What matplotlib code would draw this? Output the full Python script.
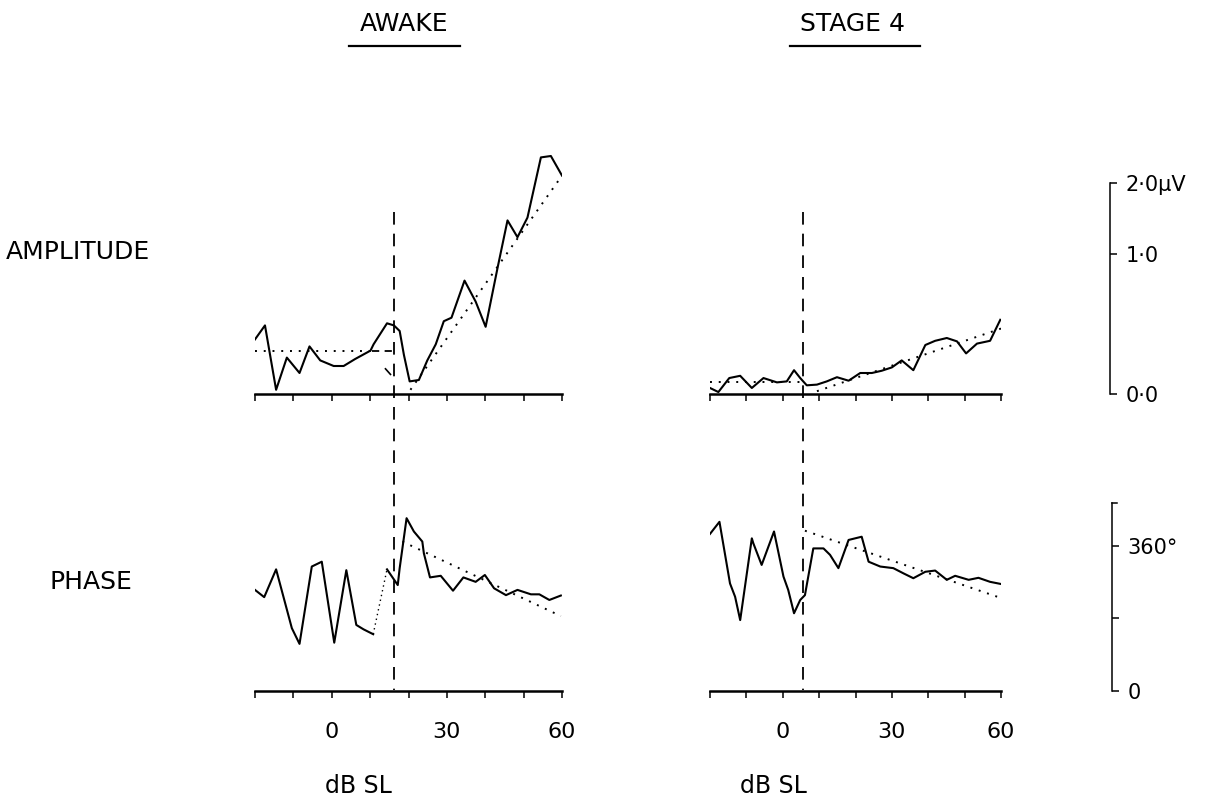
import matplotlib
matplotlib.use('Agg')
import matplotlib.pyplot as plt
from matplotlib.lines import Line2D
from matplotlib.ticker import FuncFormatter
import matplotlib.transforms as mtransforms

plt.rcParams['font.family'] = ['DejaVu Sans']

# ---------------- data (dB SL vs amplitude µV / phase deg) ----------------
awake_amp_db = [-20, -17.4, -14.5, -11.7, -8.4, -5.8, -3.0, 0.5, 3.1, 6.1, 10.1, 10.9,
                14.4, 16.2, 17.7, 18.8, 20.3, 22.7, 24.9, 27.1, 29.2, 31.2, 34.6, 37.5,
                40.1, 43.2, 45.8, 48.4, 51.0, 54.5, 57.1, 60.0]
awake_amp = [0.39, 0.49, 0.03, 0.26, 0.15, 0.34, 0.24, 0.20, 0.20, 0.25, 0.31, 0.355,
             0.505, 0.49, 0.45, 0.28, 0.09, 0.10, 0.24, 0.355, 0.52, 0.545, 0.81, 0.66,
             0.48, 0.90, 1.24, 1.12, 1.26, 1.69, 1.70, 1.56]
awake_amp_base_db = [-20, 10.5]
awake_amp_base = [0.31, 0.31]
awake_amp_base2_db = [10.5, 16.3]
awake_amp_base2 = [0.31, 0.31]
awake_amp_fit_db = [20.5, 60]
awake_amp_fit = [0.03, 1.56]

stage4_amp_db = [-20, -17.7, -14.7, -11.7, -8.5, -5.3, -1.6, 1.1, 3.1, 4.8, 6.6, 9.4,
                 12.1, 14.9, 18.1, 21.3, 24.5, 27.2, 30.0, 32.7, 35.9, 39.2, 41.9, 45.1,
                 47.9, 50.4, 53.4, 57.0, 59.8]
stage4_amp = [0.043, 0.014, 0.114, 0.13, 0.043, 0.114, 0.083, 0.09, 0.17, 0.114, 0.062,
              0.067, 0.09, 0.12, 0.095, 0.15, 0.15, 0.166, 0.19, 0.24, 0.17, 0.35, 0.38,
              0.40, 0.376, 0.29, 0.36, 0.38, 0.53]
stage4_amp_base_db = [-20, 5]
stage4_amp_base = [0.083, 0.083]
stage4_amp_fit_db = [9.4, 60.3]
stage4_amp_fit = [0.02, 0.47]

awake_ph1_db = [-20, -17.6, -14.5, -10.4, -8.4, -5.2, -2.6, 0.65, 3.8, 6.4, 8.3, 10.8]
awake_ph1 = [251, 233, 302, 156, 117, 309, 321, 120, 300, 164, 153, 141]
awake_ph_gap_db = [10.8, 14.4]
awake_ph_gap = [141, 302]
awake_ph2_db = [14.4, 17.2, 17.7, 18.6, 19.5, 21.4, 23.6, 24.0, 25.6, 28.4, 31.6, 34.3,
                37.5, 39.9, 42.3, 45.4, 48.4, 51.9, 54.1, 56.7, 59.7]
awake_ph2 = [302, 263, 305, 367, 429, 396, 371, 342, 282, 286, 249, 282, 271, 288, 255,
             238, 251, 240, 240, 226, 237]
awake_ph_fit_db = [18.4, 59.7]
awake_ph_fit = [371, 186]

stage4_ph_db = [-20, -17.4, -14.5, -13.1, -11.7, -8.5, -8.1, -5.8, -2.4, 0.2, 1.5, 3.1,
                4.8, 6.1, 8.4, 11.2, 13.0, 15.3, 18.1, 21.7, 23.6, 26.8, 30.4, 33.2, 35.9,
                39.2, 41.9, 45.1, 47.4, 51.1, 53.8, 57.0, 59.8]
stage4_ph = [390, 420, 267, 234, 176, 379, 367, 313, 396, 284, 251, 193, 226, 238, 354,
             354, 338, 305, 375, 383, 321, 309, 305, 292, 280, 296, 299, 276, 286, 276,
             281, 271, 266]
stage4_ph_fit_db = [6.1, 59.3]
stage4_ph_fit = [398, 233]

awake_threshold_db = 16.3
stage4_threshold_db = 5.6

x_ticks = [-20, -10, 0, 10, 20, 30, 40, 50, 60]
x_labelled = [0, 30, 60]
amp_scale_ticks = [0.0, 1.0, 1.507]
amp_scale_labels = ['0·0', '1·0', '2·0µV']
ph_scale_ticks = [0, 180, 360]
ph_scale_labels = ['0', '', '360°']
ph_scale_top = 467

# ---------------- layout ----------------
W, H = 1219, 799
fig = plt.figure(figsize=(W / 100, H / 100), dpi=100)


def box(x0, x1, y0, y1):
    return [x0 / W, 1 - y1 / H, (x1 - x0) / W, (y1 - y0) / H]


def fy(py):
    return 1 - py / H


AMP_YLIM = ((394 - 410) / 140, (394 - 100) / 140)
PH_YLIM = ((691 - 705) / 0.4028, (691 - 490) / 0.4028)


def style(ax, ylim, labels):
    ax.set_xlim(-20, 60)
    ax.set_ylim(*ylim)
    ax.patch.set_visible(False)
    for s in ('top', 'right', 'left'):
        ax.spines[s].set_visible(False)
    ax.spines['bottom'].set_position(('data', 0))
    ax.spines['bottom'].set_linewidth(1.8)
    ax.set_xticks(x_ticks)
    ax.set_yticks([])
    ax.tick_params(axis='x', direction='out', length=5, width=1.1, labelsize=16, pad=17)
    if labels:
        ax.xaxis.set_major_formatter(FuncFormatter(
            lambda v, p: str(int(round(v))) if int(round(v)) in x_labelled else ''))
    else:
        ax.set_xticklabels([])


solid = dict(color='black', lw=1.5, solid_joinstyle='round')
dotted = dict(color='black', lw=1.4, linestyle=(0, (1, 3.5)))

ax_aa = fig.add_axes(box(255, 562, 100, 410))
ax_sa = fig.add_axes(box(710, 1001, 100, 410))
ax_ap = fig.add_axes(box(255, 562, 490, 705))
ax_sp = fig.add_axes(box(710, 1001, 490, 705))
style(ax_aa, AMP_YLIM, False)
style(ax_sa, AMP_YLIM, False)
style(ax_ap, PH_YLIM, True)
style(ax_sp, PH_YLIM, True)

# awake amplitude
ax_aa.plot(awake_amp_db, awake_amp, **solid)
ax_aa.plot(awake_amp_base_db, awake_amp_base, **dotted)
ax_aa.plot(awake_amp_base2_db, awake_amp_base2, color='black', lw=1.3, linestyle=(0, (4, 3)))
ax_aa.plot(awake_amp_fit_db, awake_amp_fit, **dotted)
ax_aa.plot([14.0, 15.3], [0.18, 0.14], color='black', lw=1.2)

# stage 4 amplitude
ax_sa.plot(stage4_amp_db, stage4_amp, **solid)
ax_sa.plot(stage4_amp_base_db, stage4_amp_base, **dotted)
ax_sa.plot(stage4_amp_fit_db, stage4_amp_fit, **dotted)

# awake phase
ax_ap.plot(awake_ph1_db, awake_ph1, **solid)
ax_ap.plot(awake_ph_gap_db, awake_ph_gap, color='black', lw=1.0, linestyle=(0, (1, 2.5)))
ax_ap.plot(awake_ph2_db, awake_ph2, **solid)
ax_ap.plot(awake_ph_fit_db, awake_ph_fit, **dotted)

# stage 4 phase
ax_sp.plot(stage4_ph_db, stage4_ph, **solid)
ax_sp.plot(stage4_ph_fit_db, stage4_ph_fit, **dotted)

# threshold dashed lines spanning both rows
for ax, xv in ((ax_aa, awake_threshold_db), (ax_sa, stage4_threshold_db)):
    tr = mtransforms.blended_transform_factory(ax.transData, fig.transFigure)
    fig.add_artist(Line2D([xv, xv], [fy(212), fy(690)], transform=tr, color='black',
                          lw=1.3, linestyle=(0, (7, 5))))

# scale bars
ax_s1 = fig.add_axes(box(1100, 1110, 100, 410))
ax_s1.set_ylim(*AMP_YLIM)
ax_s2 = fig.add_axes(box(1102, 1112, 490, 705))
ax_s2.set_ylim(*PH_YLIM)
for axs, ticks, labs, top in ((ax_s1, amp_scale_ticks, amp_scale_labels, amp_scale_ticks[-1]),
                              (ax_s2, ph_scale_ticks, ph_scale_labels, ph_scale_top)):
    axs.patch.set_visible(False)
    for s in ('top', 'left', 'bottom'):
        axs.spines[s].set_visible(False)
    axs.spines['right'].set_bounds(0, top)
    axs.spines['right'].set_linewidth(1.1)
    axs.set_xticks([])
    axs.yaxis.tick_right()
    axs.set_yticks(ticks)
    axs.set_yticklabels(labs)
    axs.tick_params(axis='y', direction='out', length=5, width=1.1, labelsize=15, pad=6)
ax_s2.plot([1, 1.5], [ph_scale_top, ph_scale_top], color='black', lw=1.1,
           transform=mtransforms.blended_transform_factory(ax_s2.transAxes, ax_s2.transData),
           clip_on=False)

# text
fig.text(404 / W, fy(24), 'AWAKE', ha='center', va='center', fontsize=18)
fig.text(852 / W, fy(24), 'STAGE 4', ha='center', va='center', fontsize=18)
fig.add_artist(Line2D([349 / W, 460 / W], [fy(46), fy(46)], color='black', lw=1.6))
fig.add_artist(Line2D([790 / W, 920 / W], [fy(46), fy(46)], color='black', lw=1.6))
fig.text(6 / W, fy(252), 'AMPLITUDE', ha='left', va='center', fontsize=18)
fig.text(50 / W, fy(582), 'PHASE', ha='left', va='center', fontsize=18)
fig.text(358 / W, fy(786), 'dB SL', ha='center', va='center', fontsize=17)
fig.text(773 / W, fy(786), 'dB SL', ha='center', va='center', fontsize=17)

fig.savefig('out.png', dpi=100)
